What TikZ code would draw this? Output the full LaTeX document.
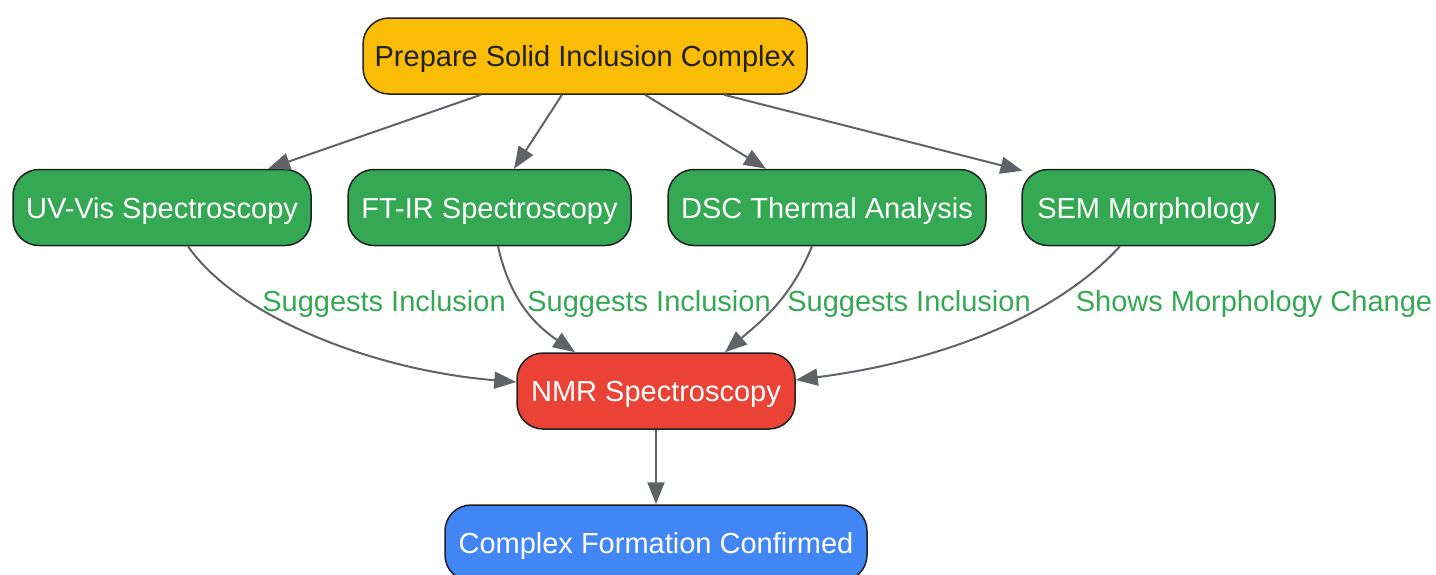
\documentclass[tikz,border=0pt]{standalone}
\usepackage{fontspec}
\setmainfont{Liberation Sans}
\usetikzlibrary{arrows.meta}
\definecolor{gyellow}{HTML}{FBBC05}
\definecolor{ggreen}{HTML}{34A853}
\definecolor{gred}{HTML}{EA4335}
\definecolor{gblue}{HTML}{4285F4}
\definecolor{edgegray}{HTML}{5F6368}
\definecolor{darktext}{HTML}{202124}
\tikzset{
  box/.style={draw=darktext, line width=1.5pt, rounded corners=26pt, minimum height=76pt,
    inner sep=0pt, text height=21pt, text depth=0pt, font=\fontsize{29}{32}\selectfont, text=white},
  conn/.style={draw=edgegray, line width=2pt, -{Triangle[length=22pt,width=17pt]}},
  elabel/.style={text=ggreen, font=\fontsize{29}{32}\selectfont, inner sep=0pt},
}
\begin{document}
\begin{tikzpicture}[x=1pt,y=-1pt]
\useasboundingbox (0,0) rectangle (1436,574);
\node[box, fill=gyellow, text=darktext, minimum width=444pt] (top) at (585,56) {Prepare Solid Inclusion Complex};
\node[box, fill=ggreen, minimum width=298pt] (uv) at (162,207.5) {UV-Vis Spectroscopy};
\node[box, fill=ggreen, minimum width=283pt] (ft) at (489.5,207.5) {FT-IR Spectroscopy};
\node[box, fill=ggreen, minimum width=318pt] (dsc) at (827,207.5) {DSC Thermal Analysis};
\node[box, fill=ggreen, minimum width=253pt] (sem) at (1148.5,207.5) {SEM Morphology};
\node[box, fill=gred, minimum width=278pt] (nmr) at (656,391) {NMR Spectroscopy};
\node[box, fill=gblue, minimum width=422pt] (done) at (656,543) {Complex Formation Confirmed};

\draw[conn] ([xshift=-104pt]top.south) -- ([xshift=106pt]uv.north);
\draw[conn] ([xshift=-23pt]top.south) -- ([xshift=24.5pt]ft.north);
\draw[conn] ([xshift=60pt]top.south) -- ([xshift=-61pt]dsc.north);
\draw[conn] ([xshift=139pt]top.south) -- ([xshift=-126pt,yshift=-2pt]sem.north);

\draw[conn] ([xshift=26pt]uv.south) .. controls (235,315) and (370,370) .. ([yshift=9pt]nmr.west);
\draw[conn] ([xshift=8.5pt]ft.south) .. controls (510,300) and (535,325) .. ([xshift=-81pt]nmr.north);
\draw[conn] ([xshift=-15pt]dsc.south) .. controls (790,300) and (760,322) .. ([xshift=69pt]nmr.north);
\draw[conn] ([xshift=-28.5pt]sem.south) .. controls (1060,312) and (950,360) .. ([yshift=11pt]nmr.east);
\draw[conn] (nmr.south) -- (done.north);

\node[elabel] (l1) at (384,304) {Suggests Inclusion};
\node[elabel] (l2) at (649,304) {Suggests Inclusion};
\node[elabel] (l3) at (909,304) {Suggests Inclusion};
\node[elabel] (l4) at (1254,304) {Shows Morphology Change};
\end{tikzpicture}
\end{document}
